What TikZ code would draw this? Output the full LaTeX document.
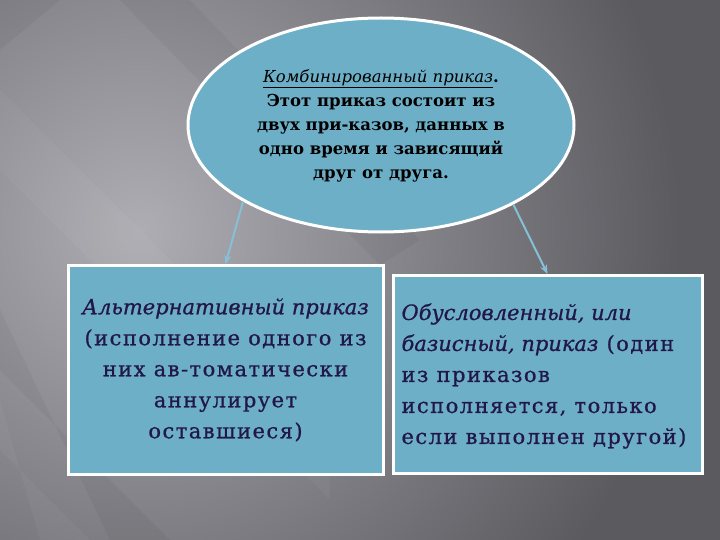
\documentclass[tikz,border=0pt]{standalone}
\usepackage{fontspec}
\setmainfont{DejaVu Serif}
\newfontfamily\boxfont[LetterSpace=7, FakeBold=0.8]{DejaVu Serif}
\newfontfamily\boxitfont[FakeBold=0.8]{DejaVu Serif}
\usetikzlibrary{shapes.geometric,arrows.meta}
\definecolor{boxfill}{HTML}{6EAFC8}
\definecolor{arrcol}{HTML}{86C0D8}
\definecolor{ink}{HTML}{211845}
\definecolor{bgLight}{HTML}{ADADB3}
\definecolor{bgDark}{HTML}{5B5A5F}
\tikzset{
  shape box/.style={draw=white, line width=3pt, fill=boxfill, inner sep=0pt},
  conn/.style={draw=arrcol, line width=2pt, -{Stealth[length=9pt,width=7pt]}},
  boxtext/.style={text=ink, font=\boxfont\fontsize{21}{31}\selectfont},
  streakL/.style={fill=white, opacity=0.035},
  streakD/.style={fill=black, opacity=0.04}
}
\newcommand{\itpart}[1]{{\boxitfont\itshape #1}}
\begin{document}
\begin{tikzpicture}[x=1pt,y=-1pt]
\useasboundingbox (0,0) rectangle (720,540);
\fill[bgDark] (0,0) rectangle (720,540);
\begin{scope}
\clip (0,0) rectangle (720,540);
\shade[inner color=bgLight, outer color=bgDark] (140,230) circle (540pt);
\fill[streakD] (120,0) -- (190,0) -- (420,240) -- (380,265) -- cycle;
\fill[streakL] (0,90) -- (0,170) -- (330,500) -- (330,420) -- cycle;
\fill[streakD] (0,310) -- (0,370) -- (170,540) -- (110,540) -- cycle;
\fill[streakL] (0,400) -- (0,450) -- (90,540) -- (40,540) -- cycle;
\fill[streakD] (0,0) -- (60,0) -- (0,50) -- cycle;
\end{scope}

\node[shape box, ellipse, minimum width=386pt, minimum height=214pt] (E) at (381,125) {};
\node[align=center, text=black, font=\fontsize{16.5}{24}\selectfont\bfseries] (Et) at (381,126)
  {\underline{\textit{\mdseries Комбинированный приказ}}.\\Этот приказ состоит из\\двух при-казов, данных в\\одно время и зависящий\\друг от друга.};

\node[shape box, rectangle, minimum width=315pt, minimum height=209pt] (L) at (225.5,370) {};
\node[shape box, rectangle, minimum width=309pt, minimum height=198pt] (R) at (547.5,374.5) {};

\node[boxtext, align=center] (Lt) at (225.5,370)
  {\itpart{Альтернативный приказ}\\(исполнение одного из\\них ав-томатически\\аннулирует\\оставшиеся)};
\node[boxtext, align=left, anchor=west] (Rt) at (398,376)
  {\itpart{Обусловленный, или}\\\itpart{базисный, приказ} (один\\из приказов\\исполняется, только\\если выполнен другой)};

\draw[conn] (E.209.5) -- (L.north);
\draw[conn] (E.329) -- (R.north);
\end{tikzpicture}
\end{document}
